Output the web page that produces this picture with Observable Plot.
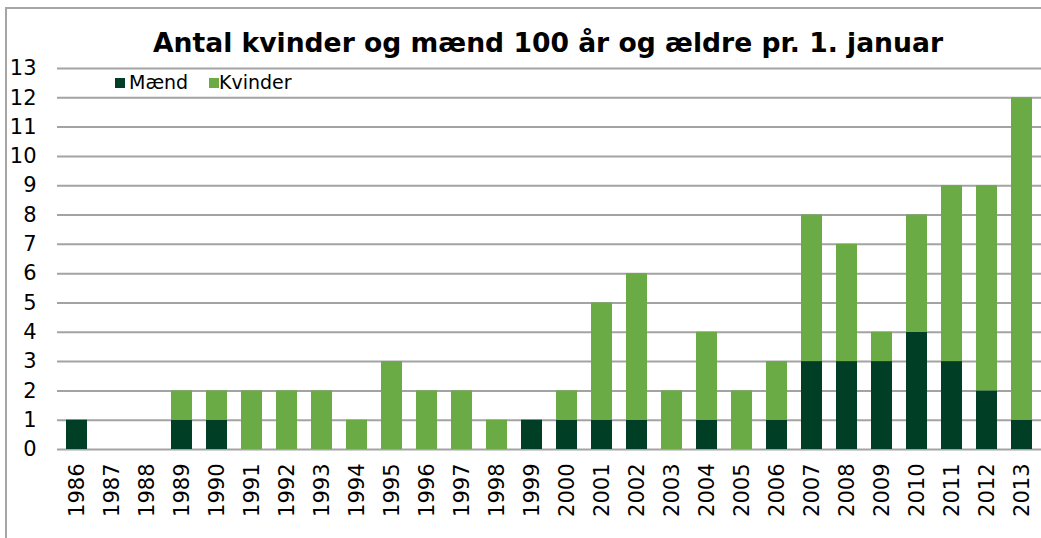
<!DOCTYPE html>
<html>
<head>
<meta charset="utf-8">
<script src="https://cdn.jsdelivr.net/npm/d3@7"></script>
<script src="https://cdn.jsdelivr.net/npm/@observablehq/plot@0.6"></script>
<style>
  body { margin: 0; background: #fff; color: #000; font-family: "DejaVu Sans", sans-serif; }
  #wrap { position: relative; width: 1041px; height: 538px; overflow: hidden; }
  #border { position: absolute; left: 5px; top: 7px; width: 1100px; height: 600px;
            border-top: 2px solid #a6a6a6; border-left: 2px solid #a6a6a6; }
  #title { position: absolute; left: 548px; top: 30px; transform: translateX(-50%);
           white-space: nowrap; font-weight: bold; font-size: 26.6px; line-height: 1; }
  #chart { position: absolute; left: 0; top: 0; }
  #chart svg text { font-size: 21px; }
  .lg-sw { position: absolute; width: 10px; height: 10px; top: 78px; }
  .lg-tx { position: absolute; top: 73px; font-size: 19px; line-height: 1; white-space: nowrap; }
</style>
</head>
<body>
<div id="wrap">
  <div id="border"></div>
  <div id="chart"></div>
  <div id="title"></div>
  <div id="legend"></div>
</div>
<script>
const titleText = "Antal kvinder og mænd 100 år og ældre pr. 1. januar";
const years = ["1986","1987","1988","1989","1990","1991","1992","1993","1994","1995",
               "1996","1997","1998","1999","2000","2001","2002","2003","2004","2005",
               "2006","2007","2008","2009","2010","2011","2012","2013"];
const maend   = [1,0,0,1,1,0,0,0,0,0,0,0,0,1,1,1,1,0,1,0,1,3,3,3,4,3,2,1];
const kvinder = [0,0,0,1,1,2,2,2,1,3,2,2,1,0,1,4,5,2,3,2,2,5,4,1,4,6,7,11];
const seriesNames = ["Mænd", "Kvinder"];
const seriesColors = ["#003f26", "#6aab45"];
const yTicks = [0,1,2,3,4,5,6,7,8,9,10,11,12,13];

const data = years.flatMap((y, i) => [
  {year: y, sex: seriesNames[0], value: maend[i]},
  {year: y, sex: seriesNames[1], value: kvinder[i]}
]);

const chart = Plot.plot({
  width: 1041,
  height: 538,
  marginTop: 68,
  marginBottom: 89,
  marginLeft: 57,
  marginRight: 0,
  style: {fontFamily: "DejaVu Sans", fontSize: "21px", background: "transparent", color: "#000"},
  x: {domain: years, paddingInner: 0.4, paddingOuter: 0.2, label: null},
  y: {domain: [0, 13], label: null},
  color: {domain: seriesNames, range: seriesColors},
  marks: [
    Plot.gridY(yTicks, {stroke: "#a3a3a3", strokeOpacity: 1, strokeWidth: 2}),
    Plot.barY(data, {x: "year", y: "value", fill: "sex", order: seriesNames}),
    Plot.axisY(yTicks, {tickSize: 0, tickPadding: 21, label: null, fontSize: 21}),
    Plot.axisX({tickSize: 0, tickRotate: -90, tickPadding: 14, label: null, fontSize: 21})
  ]
});
document.getElementById("chart").appendChild(chart);
document.getElementById("title").textContent = titleText;

const legend = document.getElementById("legend");
const swX = [115, 209];
const txX = [129, 219];
seriesNames.forEach((name, i) => {
  const sw = document.createElement("div");
  sw.className = "lg-sw";
  sw.style.left = swX[i] + "px";
  sw.style.background = seriesColors[i];
  legend.appendChild(sw);
  const tx = document.createElement("div");
  tx.className = "lg-tx";
  tx.style.left = txX[i] + "px";
  tx.textContent = name;
  legend.appendChild(tx);
});
</script>
</body>
</html>
